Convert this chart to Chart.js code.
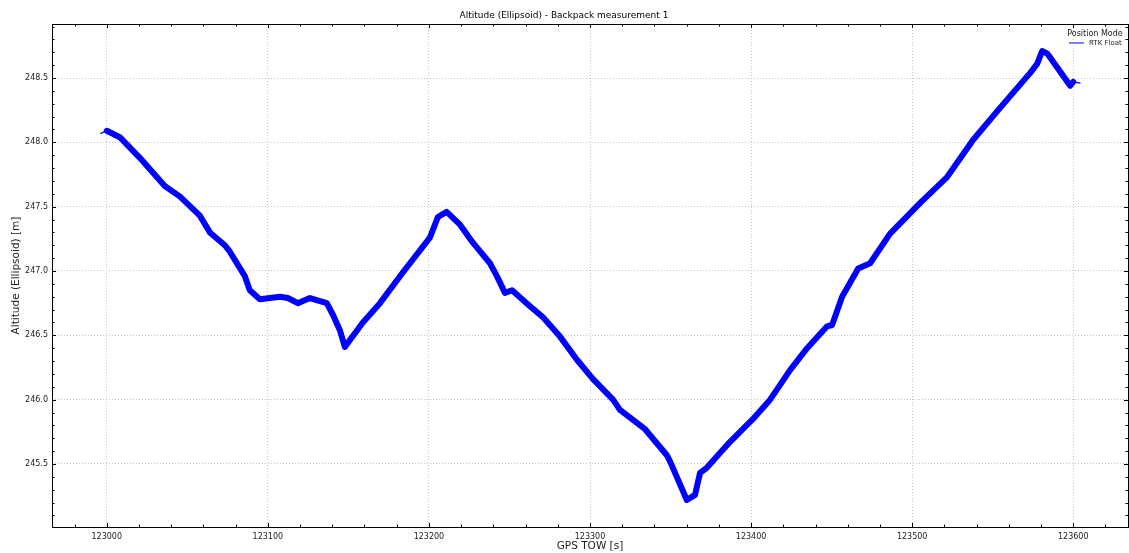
<!DOCTYPE html>
<html>
<head>
<meta charset="utf-8">
<script src="https://cdn.jsdelivr.net/npm/chart.js@4.4.1/dist/chart.umd.min.js"></script>
<style>
  html, body { margin: 0; padding: 0; background: #fff; }
  #wrap { width: 1129px; height: 553px; }
</style>
</head>
<body>
<div id="wrap"><canvas id="altChart"></canvas></div>
<script>
// GPS TOW [s] and ellipsoid altitude [m]
const gpsTow = [
  122996.3, 123000.0, 123008.1, 123020.5, 123036.0, 123045.3, 123057.8, 123064.0,
  123073.3, 123076.4, 123085.7, 123088.8, 123095.0, 123107.5, 123112.4, 123118.6,
  123126.1, 123136.6, 123140.4, 123144.7, 123147.8, 123159.0, 123169.6, 123183.9,
  123200.6, 123205.6, 123211.0, 123219.3, 123227.3, 123237.9, 123242.2, 123247.2,
  123251.6, 123261.5, 123270.8, 123281.4, 123291.9, 123301.9, 123314.3, 123318.6,
  123334.2, 123347.6, 123349.7, 123360.1, 123365.2, 123368.3, 123372.5, 123386.8,
  123401.2, 123411.8, 123424.2, 123434.8, 123447.2, 123450.3, 123456.5, 123466.5,
  123473.9, 123486.3, 123498.8, 123505.0, 123521.7, 123537.9, 123554.7, 123573.3,
  123577.6, 123580.7, 123583.9, 123598.1, 123600.0, 123604.3
];
const altitude = [
  248.07, 248.09, 248.04, 247.88, 247.66, 247.58, 247.43, 247.30,
  247.20, 247.15, 246.96, 246.85, 246.78, 246.80, 246.79, 246.75,
  246.79, 246.75, 246.66, 246.54, 246.41, 246.60, 246.75, 246.99,
  247.26, 247.42, 247.46, 247.36, 247.22, 247.06, 246.96, 246.83,
  246.85, 246.74, 246.64, 246.49, 246.31, 246.16, 246.00, 245.92,
  245.77, 245.57, 245.52, 245.22, 245.26, 245.43, 245.47, 245.67,
  245.85, 246.00, 246.23, 246.40, 246.57, 246.58, 246.80, 247.02,
  247.06, 247.29, 247.45, 247.53, 247.73, 248.02, 248.27, 248.54,
  248.61, 248.71, 248.69, 248.44, 248.47, 248.46
];
const seriesLabel = 'RTK Float';
const legendTitle = 'Position Mode';

const X_MIN = 122966, X_MAX = 123634;
const Y_MIN = 245.01, Y_MAX = 248.92;

const points = gpsTow.map((t, i) => ({ x: t, y: altitude[i] }));
const lastIdx = points.length - 1;

// cadre noir + graduations vers l'intérieur (style matplotlib)
const framePlugin = {
  id: 'frame',
  afterDraw(chart) {
    const { ctx, chartArea: a, scales } = chart;
    ctx.save();
    ctx.strokeStyle = '#000';
    ctx.lineWidth = 1;
    ctx.strokeRect(Math.round(a.left) + 0.5, Math.round(a.top) + 0.5,
                   Math.round(a.right - a.left), Math.round(a.bottom - a.top));
    ctx.beginPath();
    for (let v = 122980; v <= X_MAX; v += 20) {
      const px = Math.round(scales.x.getPixelForValue(v)) + 0.5;
      const len = (v % 100 === 0) ? 4 : 2.5;
      ctx.moveTo(px, a.bottom); ctx.lineTo(px, a.bottom - len);
      ctx.moveTo(px, a.top); ctx.lineTo(px, a.top + len);
    }
    for (let k = 2451; k <= 2489; k++) {
      const v = k / 10;
      const py = Math.round(scales.y.getPixelForValue(v)) + 0.5;
      const len = (k % 5 === 0) ? 4 : 2.5;
      ctx.moveTo(a.left, py); ctx.lineTo(a.left + len, py);
      ctx.moveTo(a.right, py); ctx.lineTo(a.right - len, py);
    }
    ctx.stroke();

    // légende en haut à droite, dans la zone du graphique
    const cx = a.right - 33;
    ctx.fillStyle = '#222';
    ctx.textAlign = 'center';
    ctx.textBaseline = 'middle';
    ctx.font = '8px "DejaVu Sans"';
    ctx.fillText(legendTitle, cx, a.top + 9.5);
    const ly = a.top + 19;
    ctx.strokeStyle = 'rgba(40, 40, 255, 0.8)';
    ctx.lineWidth = 1.5;
    ctx.beginPath();
    ctx.moveTo(a.right - 59, ly); ctx.lineTo(a.right - 44, ly);
    ctx.stroke();
    ctx.textAlign = 'left';
    ctx.font = '7px "DejaVu Sans"';
    ctx.fillText(chart.data.datasets[0].label, a.right - 39, ly);
    ctx.restore();
  }
};

const ctx = document.getElementById('altChart').getContext('2d');
new Chart(ctx, {
  type: 'line',
  data: {
    datasets: [{
      label: seriesLabel,
      data: points,
      borderColor: 'rgb(0, 0, 255)',
      borderWidth: 6,
      borderJoinStyle: 'round',
      borderCapStyle: 'round',
      pointRadius: 0,
      tension: 0,
      fill: false,
      segment: {
        borderWidth: c => (c.p0DataIndex === 0 || c.p0DataIndex >= lastIdx - 1) ? 1.2 : undefined
      }
    }]
  },
  options: {
    responsive: true,
    maintainAspectRatio: false,
    animation: false,
    layout: { padding: { left: 0, right: 1, top: 0, bottom: 0 } },
    plugins: {
      title: {
        display: true,
        text: 'Altitude (Ellipsoid) - Backpack measurement 1',
        color: '#000',
        font: { family: 'DejaVu Sans', size: 9, weight: 'normal' },
        padding: { top: 10.5, bottom: 2.7 }
      },
      legend: { display: false },
      tooltip: { enabled: false }
    },
    scales: {
      x: {
        type: 'linear',
        min: X_MIN, max: X_MAX,
        afterBuildTicks: s => { s.ticks = s.ticks.filter(t => Math.abs(t.value % 100) < 1e-6); },
        afterFit: s => { s.height = 26; },
        ticks: {
          stepSize: 100,
          color: '#222',
          font: { family: 'DejaVu Sans', size: 8 },
          padding: 5,
          maxRotation: 0,
          callback: v => String(v)
        },
        grid: { color: '#b8b8b8', lineWidth: 0.8, drawTicks: false },
        border: { display: false, dash: [1, 2] },
        title: {
          display: true,
          text: 'GPS TOW [s]',
          color: '#222',
          font: { family: 'DejaVu Sans', size: 10.5 },
          padding: { top: 0, bottom: 0 }
        }
      },
      y: {
        type: 'linear',
        min: Y_MIN, max: Y_MAX,
        afterBuildTicks: s => {
          s.ticks = s.ticks.filter(t => Math.abs(Math.round(t.value * 2) - t.value * 2) < 1e-6);
        },
        afterFit: s => { s.width = 52; },
        ticks: {
          stepSize: 0.5,
          color: '#222',
          font: { family: 'DejaVu Sans', size: 8 },
          padding: 4,
          callback: v => v.toFixed(1)
        },
        grid: { color: '#b8b8b8', lineWidth: 0.8, drawTicks: false },
        border: { display: false, dash: [1, 2] },
        title: {
          display: true,
          text: 'Altitude (Ellipsoid) [m]',
          color: '#222',
          font: { family: 'DejaVu Sans', size: 10.5 },
          padding: { top: 10, bottom: 0 }
        }
      }
    }
  },
  plugins: [framePlugin]
});
</script>
</body>
</html>
